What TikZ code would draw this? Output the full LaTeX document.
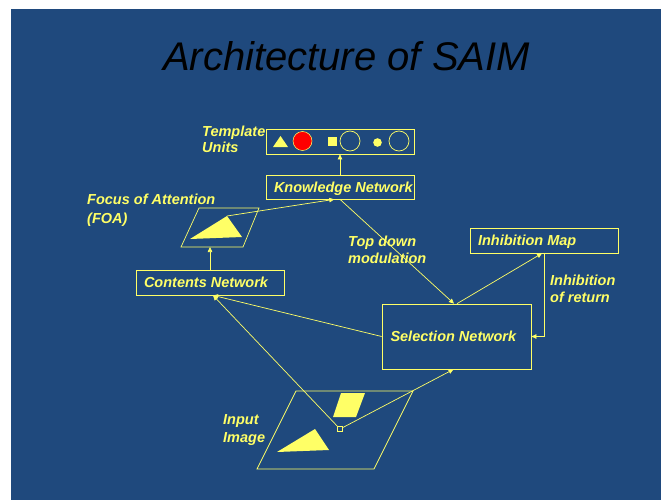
\documentclass[tikz,border=0pt]{standalone}
\usepackage{fontspec}
\setmainfont{Liberation Sans}
\usetikzlibrary{arrows.meta,calc}
\definecolor{slideblue}{RGB}{31,73,125}
\definecolor{hilite}{RGB}{255,255,102}
\newcommand\slidelabelfont{\fontsize{14.5}{16}\selectfont\bfseries\itshape}
\newcommand\boxline[1]{\hbox to 132pt{#1\hss}}
\begin{document}
\begin{tikzpicture}[x=1pt,y=-1pt,
  wire/.style={draw=hilite, line width=0.7pt},
  arr/.style={wire, -{Triangle[length=5pt,width=4.5pt]}},
  netbox/.style={draw=hilite, line width=0.7pt, rectangle,
    inner xsep=8pt, inner ysep=0pt, minimum width=148pt, minimum height=25pt,
    text height=10.5pt, text depth=0pt, font=\slidelabelfont, text=hilite},
  lbl/.style={inner sep=0pt, anchor=base west, font=\slidelabelfont, text=hilite},
]
\useasboundingbox (0,0) rectangle (661,500);
\fill[white] (0,0) rectangle (661,500);
\fill[slideblue] (11,9) rectangle (661,500);

% title
\node[anchor=base, inner sep=0pt, text=black,
  font=\fontsize{40}{48}\selectfont\itshape] (title) at (346.5,71) {Architecture of SAIM};

% network boxes
\node[netbox] (units) at (340,141.5) {\boxline{}};
\node[netbox, minimum height=24pt] (knowledge) at (340,187) {\boxline{Knowledge Network}};
\node[netbox] (contents) at (210,282.5) {\boxline{Contents Network}};
\node[netbox, minimum width=149pt, minimum height=65pt] (selection) at (456.5,336.5) {\boxline{Selection Network}};
\node[netbox] (inhibmap) at (544,240.5) {\boxline{Inhibition Map}};

% template units
\fill[hilite] (273,147) -- (280.5,136) -- (288,147) -- cycle;
\filldraw[fill=red, draw=hilite, line width=0.5pt] (302.5,141) circle (9.5);
\fill[hilite] (328,137) rectangle (337,146);
\draw[wire] (350,141) circle (10);
\fill[hilite] (377.5,142.5) circle (4.3);
\draw[wire] (399,141) circle (10);

% focus of attention window
\draw[wire] (199,208) -- (259,208) -- (243,247) -- (181,247) -- cycle;
\fill[hilite] (190,239) -- (227,216) coordinate (foa-tip) -- (242,237) -- cycle;
\coordinate (foa-base) at (210,247);

% input image
\draw[wire] (296,391) -- (413,391) -- (374,469) -- (257,469) -- cycle;
\fill[hilite] (341,393) -- (365,393) -- (356,417) -- (333,417) -- cycle;
\fill[hilite] (277,452) -- (315,429) -- (329,450) -- cycle;
\node[draw=hilite, line width=0.7pt, minimum size=5pt, inner sep=0pt] (seed) at (340,429) {};

% connections
\draw[arr] (knowledge) -- (units);
\draw[arr] (contents.north) -- (foa-base);
\draw[arr] (foa-tip) -- (knowledge.-115);
\draw[arr] (knowledge.south) -- ([xshift=-2.5pt]selection.north);
\draw[arr] ([xshift=0.5pt]selection.north) -- ([xshift=-2pt]inhibmap.south);
\draw[arr] (inhibmap.south) |- (selection.east);
\draw[arr] (selection.west) -- ([xshift=3pt]contents.south);
\draw[arr] (seed) -- ([xshift=3pt]contents.south);
\draw[arr] (seed) -- ([xshift=-3pt]selection.south);

% free labels
\node[lbl] (units-l1) at (202,137) {Template};
\node[lbl] (units-l2) at (202,153) {Units};
\node[lbl] (foa-l1) at (87,204) {Focus of Attention};
\node[lbl] (foa-l2) at (87,223) {(FOA)};
\node[lbl] (topdown-l1) at (348,246) {Top down};
\node[lbl] (topdown-l2) at (348,263) {modulation};
\node[lbl] (return-l1) at (550,285) {Inhibition};
\node[lbl] (return-l2) at (550,302) {of return};
\node[lbl] (input-l1) at (223,424) {Input};
\node[lbl] (input-l2) at (223,442) {Image};
\end{tikzpicture}
\end{document}
